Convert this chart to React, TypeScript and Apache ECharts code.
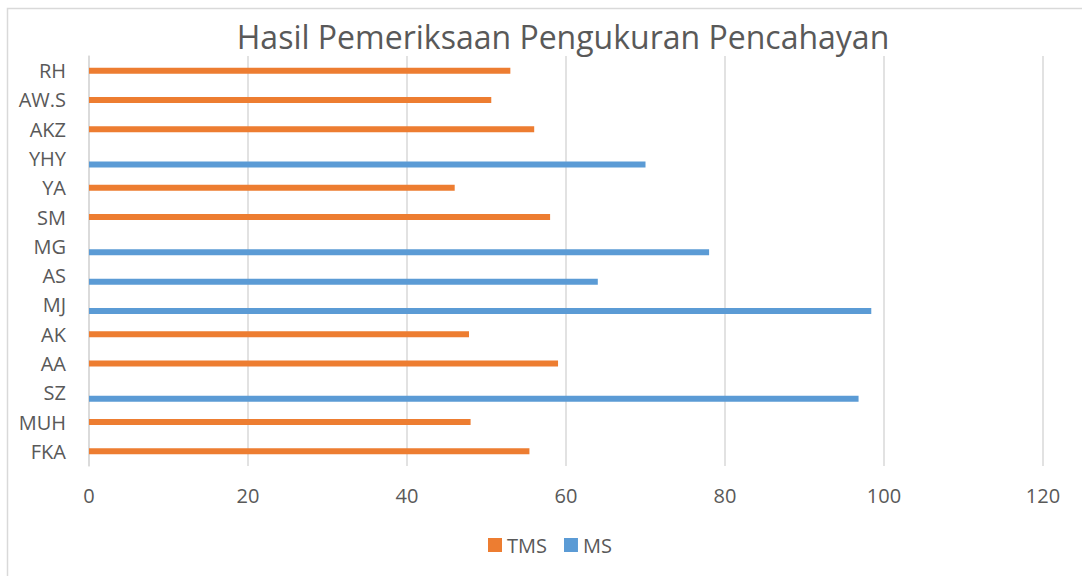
import React, { useEffect, useRef } from "react";
import * as echarts from "echarts";

const categories = ["FKA", "MUH", "SZ", "AA", "AK", "MJ", "AS", "MG", "SM", "YA", "YHY", "AKZ", "AW.S", "RH"];
const tmsValues: (number | null)[] = [55.4, 48, null, 59, 47.8, null, null, null, 58, 46, null, 56, 50.6, 53];
const msValues: (number | null)[] = [null, null, 96.8, null, null, 98.4, 64, 78, null, null, 70, null, null, null];
const xTicks = { min: 0, max: 120, interval: 20 };
const titleText = "Hasil Pemeriksaan Pengukuran Pencahayan";
const seriesNames = ["TMS", "MS"];

const FONT = "'Open Sans', 'Liberation Sans', sans-serif";
const TEXT = "#595959";

export default function App() {
  const ref = useRef<HTMLDivElement>(null);
  useEffect(() => {
    if (!ref.current) return;
    const chart = echarts.init(ref.current, undefined, { renderer: "svg" });
    chart.setOption({
      animation: false,
      backgroundColor: "#ffffff",
      graphic: [
        {
          type: "rect",
          shape: { x: 7.5, y: 8.5, width: 1200, height: 700 },
          style: { fill: "none", stroke: "#d9d9d9", lineWidth: 1.5 },
          silent: true,
        },
        {
          type: "text",
          x: 563,
          y: 36,
          style: {
            text: titleText,
            fontFamily: FONT,
            fontSize: 32,
            fill: TEXT,
            align: "center",
            verticalAlign: "middle",
          },
        },
      ],
      legend: {
        data: seriesNames,
        left: 483,
        top: 530,
        itemWidth: 14,
        itemHeight: 14,
        itemGap: 17,
        icon: "rect",
        textStyle: { fontFamily: FONT, fontSize: 20, color: TEXT },
      },
      grid: { left: 89, right: 39, top: 56, bottom: 110, containLabel: false },
      xAxis: {
        type: "value",
        min: xTicks.min,
        max: xTicks.max,
        interval: xTicks.interval,
        axisLine: { show: false },
        axisTick: { show: false },
        splitLine: { show: true, lineStyle: { color: "#d9d9d9", width: 1.5 } },
        axisLabel: { fontFamily: FONT, fontSize: 20, color: TEXT, margin: 19 },
      },
      yAxis: {
        type: "category",
        data: categories,
        axisLine: { show: true, lineStyle: { color: "#d9d9d9", width: 1.5 } },
        axisTick: { show: false },
        axisLabel: { fontFamily: FONT, fontSize: 20, color: TEXT, margin: 23 },
      },
      series: [
        {
          name: "_pad",
          type: "bar",
          data: [],
          barWidth: 6,
          barGap: "0%",
          silent: true,
        },
        {
          name: "TMS",
          type: "bar",
          data: tmsValues,
          barWidth: 6,
          barGap: "0%",
          itemStyle: { color: "#ED7D31" },
        },
        {
          name: "MS",
          type: "bar",
          data: msValues,
          barWidth: 6,
          barGap: "0%",
          itemStyle: { color: "#5B9BD5" },
        },
      ],
    });
    return () => chart.dispose();
  }, []);
  return (
    <div
      ref={ref}
      style={{ position: "fixed", left: 0, top: 0, width: 1082, height: 576 }}
    />
  );
}
